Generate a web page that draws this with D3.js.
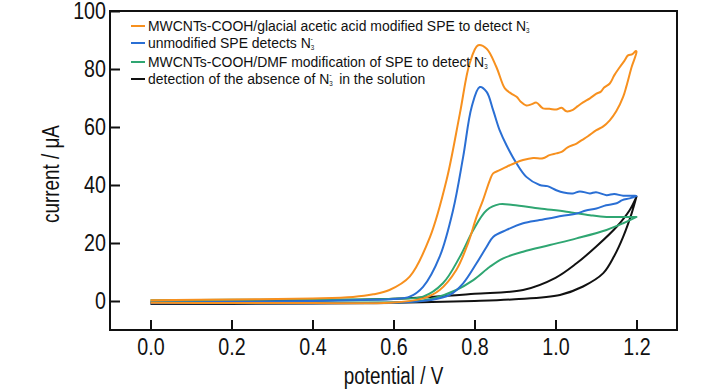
<!DOCTYPE html>
<html><head><meta charset="utf-8">
<script src="https://cdn.jsdelivr.net/npm/d3@7"></script>
<style>
html,body{margin:0;padding:0;background:#fff;}
svg{display:block;}
text{font-family:"Liberation Sans",Arial,sans-serif;fill:#111;}
</style></head>
<body>
<svg id="chart" width="728" height="390"></svg>
<script>
// ---- data (potential V, current µA) ----
const xTicks = [0.0, 0.2, 0.4, 0.6, 0.8, 1.0, 1.2];
const yTicks = [0, 20, 40, 60, 80, 100];

const orangeFwd = [[0.0,0.3],[0.2,0.5],[0.4,0.9],[0.5,1.4],[0.55,2.3],[0.59,3.8],[0.64,8.4],[0.69,22],[0.731,41.7],[0.764,64.7],[0.788,81.9],[0.809,88.2],[0.83,87],[0.854,80.7],[0.875,73.3],[0.89,71.6],[0.904,70.4],[0.915,68.6],[0.928,67.4],[0.94,67.8],[0.953,68.4],[0.969,66.4],[0.985,66.3],[1.002,66],[1.015,66.6],[1.027,65.4],[1.043,65.9],[1.055,67.2],[1.068,68.5],[1.085,69.9],[1.101,71.5],[1.112,72.2],[1.12,73.6],[1.134,75],[1.145,77.8],[1.159,80.7],[1.17,82.8],[1.179,84.7],[1.19,85.1],[1.198,86.2]];
const orangeRev = [[1.2,86],[1.188,80.7],[1.175,74],[1.167,70.4],[1.15,65.4],[1.134,62.3],[1.118,60.2],[1.101,58.9],[1.08,56.8],[1.065,55.5],[1.052,54.3],[1.03,53],[1.015,51.4],[1.002,50.9],[0.985,50.3],[0.969,49.2],[0.945,49.3],[0.92,48.6],[0.9,47.6],[0.887,46.8],[0.862,45.1],[0.846,44],[0.838,41.7],[0.821,34.8],[0.805,29],[0.784,19.9],[0.755,10.7],[0.714,3.8],[0.673,0.9],[0.59,-0.6],[0.4,-0.7],[0.2,-0.7],[0.0,-0.6]];

const blueFwd = [[0.0,-0.5],[0.2,-0.3],[0.4,0.0],[0.55,0.4],[0.6,0.7],[0.64,1.5],[0.673,4.9],[0.714,15.3],[0.747,31.3],[0.772,49.7],[0.793,66.9],[0.813,73.8],[0.83,72.1],[0.846,65.8],[0.862,58.9],[0.879,53.7],[0.904,47.4],[0.928,42.8],[0.961,40],[0.98,39.6],[1.002,38.2],[1.02,37.4],[1.043,37.1],[1.06,37.8],[1.085,37.1],[1.1,37.5],[1.126,36.5],[1.145,36.9],[1.167,36.3],[1.196,36.3]];
const blueRev = [[1.2,36.2],[1.183,35.4],[1.165,34.8],[1.151,33.7],[1.125,33],[1.101,31.9],[1.075,31.2],[1.052,30.2],[1.002,29],[0.961,27.9],[0.92,26.8],[0.879,24.5],[0.846,22.1],[0.83,18.7],[0.805,13],[0.772,6.1],[0.739,2.1],[0.69,0.3],[0.6,-0.6],[0.4,-0.8],[0.2,-0.8],[0.0,-0.8]];

const greenFwd = [[0.0,0.3],[0.2,0.4],[0.4,0.5],[0.6,0.8],[0.673,1.5],[0.722,6.1],[0.764,15.3],[0.797,24.5],[0.83,31.3],[0.862,33.4],[0.895,33.1],[0.961,31.9],[1.027,30.8],[1.085,29.6],[1.126,29],[1.2,29]];
const greenRev = [[1.2,29],[1.167,26.8],[1.126,24.5],[1.052,21.6],[0.986,19.3],[0.92,17],[0.871,14.7],[0.838,11.8],[0.797,7.2],[0.755,3.8],[0.698,0.9],[0.64,-0.3],[0.4,-0.4],[0.2,-0.4],[0.0,-0.3]];

const blackFwd = [[0.0,-0.5],[0.2,-0.2],[0.4,0.2],[0.6,0.8],[0.7,1.5],[0.8,2.5],[0.92,3.8],[1.0,8],[1.052,13],[1.1,18.7],[1.151,25.6],[1.183,31.3],[1.2,36]];
const blackRev = [[1.2,36],[1.188,30.2],[1.167,22.1],[1.145,15.5],[1.118,9.6],[1.068,5],[1.011,2.1],[0.9,0.6],[0.8,0.0],[0.6,-0.6],[0.4,-0.9],[0.2,-1.0],[0.0,-1.0]];

const seriesColors = ["#f7901e","#2a6fd4","#2fa672","#111111"];
const seriesData = [orangeFwd.concat(orangeRev), blueFwd.concat(blueRev), greenFwd.concat(greenRev), blackFwd.concat(blackRev)];

// ---- layout ----
const svg = d3.select("#chart");
const mLeft = 110, mRight = 677, mTop = 11, mBottom = 330;
const NARROW = 0.82;
const x = d3.scaleLinear().domain([-0.1, 1.3]).range([mLeft, mRight]);
const y = d3.scaleLinear().domain([-10, 100]).range([mBottom, mTop]);

const line = d3.line().x(d => x(d[0])).y(d => y(d[1])).curve(d3.curveCatmullRom.alpha(0.5));

const g = svg.append("g");
[3,2,1,0].forEach(k => {
  g.append("path").datum(seriesData[k])
    .attr("fill","none").attr("stroke",seriesColors[k])
    .attr("stroke-width",2).attr("stroke-linejoin","round")
    .attr("d", line);
});

// axes
const xAxis = d3.axisBottom(x).tickValues(xTicks).tickFormat(d3.format(".1f")).tickSizeInner(-10).tickSizeOuter(0).tickPadding(8);
const yAxis = d3.axisLeft(y).tickValues(yTicks).tickFormat(d3.format("d")).tickSizeInner(-10).tickSizeOuter(0).tickPadding(4);
const gx = svg.append("g").attr("transform",`translate(0,${mBottom})`).call(xAxis);
const gy = svg.append("g").attr("transform",`translate(${mLeft},0)`).call(yAxis);
[gx,gy].forEach(a => {
  a.select(".domain").remove();
  a.selectAll("line").attr("stroke","#111").attr("stroke-width",2);
  a.selectAll("text").style("font-size","24px").attr("fill","#111");
});
gx.selectAll("text").attr("transform",`scale(${NARROW},1)`);
gy.selectAll("text").attr("x",-4/NARROW).attr("transform",`scale(${NARROW},1)`);

// frame
svg.append("rect").attr("x",mLeft).attr("y",mTop).attr("width",mRight-mLeft).attr("height",mBottom-mTop)
  .attr("fill","none").attr("stroke","#111").attr("stroke-width",2);

// axis titles
svg.append("text").attr("transform",`translate(${(mLeft+mRight)/2},384) scale(${NARROW},1)`).attr("text-anchor","middle")
  .style("font-size","23px").text("potential / V");
svg.append("text").attr("transform",`translate(59,174) rotate(-90) scale(${NARROW},1)`).attr("text-anchor","middle")
  .style("font-size","23px").text("current / μA");

// legend
const legendLabels = [
  "MWCNTs-COOH/glacial acetic acid modified SPE to detect N",
  "unmodified SPE detects N",
  "MWCNTs-COOH/DMF modification of SPE to detect N",
  "detection of the absence of N"
];
const legendSuffix = ["", "", "", " in the solution"];
const legendY = [26, 43, 62, 79];
const lg = svg.append("g");
legendLabels.forEach((lab, k) => {
  lg.append("line").attr("x1",131).attr("x2",145).attr("y1",legendY[k]).attr("y2",legendY[k])
    .attr("stroke",seriesColors[k]).attr("stroke-width",2);
  const t = lg.append("text").attr("transform",`translate(148,${legendY[k]+5}) scale(0.9,1)`).style("font-size","15.5px");
  t.append("tspan").text(lab);
  t.append("tspan").attr("dy",2).style("font-size","7px").text("3");
  t.append("tspan").attr("dx",-4).attr("dy",-9).style("font-size","8px").text("-");
  if (legendSuffix[k]) t.append("tspan").attr("dx",4).attr("dy",7).text(legendSuffix[k]);
});
</script>
</body></html>
